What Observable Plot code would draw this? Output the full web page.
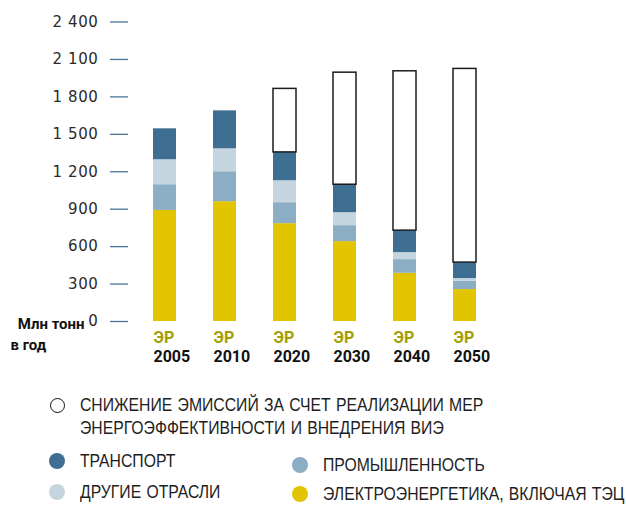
<!DOCTYPE html>
<html>
<head>
<meta charset="utf-8">
<script src="https://cdn.jsdelivr.net/npm/d3@7"></script>
<script src="https://cdn.jsdelivr.net/npm/@observablehq/plot@0.6"></script>
<style>
  html, body { margin: 0; padding: 0; background: #fff; }
  #wrap { position: relative; width: 626px; height: 505px; overflow: hidden; }
  #wrap svg { position: absolute; left: 0; top: 0; }
  g[aria-label="y-axis tick label"] text { letter-spacing: 0.6px; }
  .lg { position: absolute; font-family: "Liberation Sans", Arial, sans-serif; font-size: 18px; color: #1e1e1e; line-height: 23px; white-space: nowrap; transform: scaleX(0.875); transform-origin: 0 0; word-spacing: 1px; }
  .dot { position: absolute; border-radius: 50%; box-sizing: border-box; }
</style>
</head>
<body>
<div id="wrap"></div>
<script>
const years = ["2005", "2010", "2020", "2030", "2040", "2050"];
const power = [890, 960, 784, 640, 386, 256];
const industry = [206, 240, 168, 128, 110, 66];
const other = [200, 184, 176, 104, 56, 22];
const transport = [248, 304, 227, 224, 176, 128];
const reduction = [0, 0, 509, 898, 1277, 1552];

const seriesKeys = ["power", "industry", "other", "transport"];
const seriesColors = ["#e3c400", "#8baec4", "#c5d5e0", "#3f6e93"];
const yTicks = [0, 300, 600, 900, 1200, 1500, 1800, 2100, 2400];
const scenarioLabel = "ЭР";
const unitLine1 = "Млн тонн";
const unitLine2 = "в год";

const legendItems = [
  {label: "СНИЖЕНИЕ ЭМИССИЙ ЗА СЧЕТ РЕАЛИЗАЦИИ МЕР<br>ЭНЕРГОЭФФЕКТИВНОСТИ И ВНЕДРЕНИЯ ВИЭ", color: null, col: 0, row: 0},
  {label: "ТРАНСПОРТ", color: "#3f6e93", col: 0, row: 1},
  {label: "ДРУГИЕ ОТРАСЛИ", color: "#c5d5e0", col: 0, row: 2},
  {label: "ПРОМЫШЛЕННОСТЬ", color: "#8baec4", col: 1, row: 1},
  {label: "ЭЛЕКТРОЭНЕРГЕТИКА, ВКЛЮЧАЯ ТЭЦ", color: "#e3c400", col: 1, row: 2}
];

const seriesValues = {power, industry, other, transport};
const rows = [];
years.forEach((y, i) => {
  seriesKeys.forEach(k => rows.push({year: y, series: k, value: seriesValues[k][i]}));
});
const redRows = years.map((y, i) => {
  const base = power[i] + industry[i] + other[i] + transport[i];
  return {year: y, base, top: base + reduction[i], value: reduction[i]};
}).filter(d => d.value > 0);

const fmt = d => d3.format(",")(d).replace(/,/g, " ");

const chart = Plot.plot({
  width: 626,
  height: 380,
  marginLeft: 128,
  marginTop: 0,
  marginRight: 0,
  marginBottom: 0,
  style: {background: "transparent", overflow: "visible"},
  x: {type: "band", domain: years, range: [113.4, 514.5], padding: 0.62, axis: null},
  y: {domain: [0, 2400], range: [321, 21.5], axis: null},
  color: {domain: seriesKeys, range: seriesColors},
  marks: [
    Plot.axisY({
      ticks: yTicks, tickFormat: fmt, tickSize: 18, tickPadding: 12,
      stroke: "#4a7598", strokeWidth: 1.3, fill: "#2a2a2a",
      fontSize: 15, fontFamily: "DejaVu Sans", label: null
    }),
    Plot.barY(rows, Plot.stackY({x: "year", y: "value", fill: "series", order: seriesKeys})),
    Plot.barY(redRows, {x: "year", y1: "base", y2: "top", fill: "white", stroke: "#1c1c1c", strokeWidth: 1.5}),
    Plot.text(years, {x: d => d, y: () => 0, text: () => scenarioLabel, textAnchor: "start", dx: -11.5, dy: 16.5,
      fill: "#a29e00", fontWeight: "bold", fontSize: 16, fontFamily: "Roboto"}),
    Plot.text(years, {x: d => d, y: () => 0, text: d => d, textAnchor: "start", dx: -11.5, dy: 35.5,
      fill: "#111", fontWeight: "bold", fontSize: 16, fontFamily: "Roboto"}),
    Plot.text([unitLine1], {y: () => 0, frameAnchor: "left", text: d => d, textAnchor: "end", dx: -44, dy: 3,
      fill: "#111", fontWeight: "bold", fontSize: 15, fontFamily: "Roboto"}),
    Plot.text([unitLine2], {y: () => 0, frameAnchor: "left", text: d => d, textAnchor: "start", dx: -118, dy: 24,
      fill: "#111", fontWeight: "bold", fontSize: 15, fontFamily: "Roboto"})
  ]
});

const wrap = document.getElementById("wrap");
wrap.appendChild(chart);

const colX = [57, 300];
const textX = [80, 323];
const rowY = [405, 461, 492];
const rowYcol1 = [405, 465, 494];
legendItems.forEach(it => {
  const cy = it.col === 0 ? rowY[it.row] : rowYcol1[it.row];
  const dot = document.createElement("div");
  dot.className = "dot";
  if (it.color) {
    dot.style.width = "16px"; dot.style.height = "16px";
    dot.style.left = (colX[it.col] - 8) + "px"; dot.style.top = (cy - 8) + "px";
    dot.style.background = it.color;
  } else {
    dot.style.width = "15px"; dot.style.height = "15px";
    dot.style.left = (colX[it.col] - 7.5) + "px"; dot.style.top = (cy - 7.5) + "px";
    dot.style.border = "1.3px solid #111"; dot.style.background = "#fff";
  }
  wrap.appendChild(dot);
  const t = document.createElement("div");
  t.className = "lg";
  t.innerHTML = it.label;
  t.style.left = textX[it.col] + "px";
  t.style.top = (cy - 11.5) + "px";
  wrap.appendChild(t);
});
</script>
</body>
</html>
